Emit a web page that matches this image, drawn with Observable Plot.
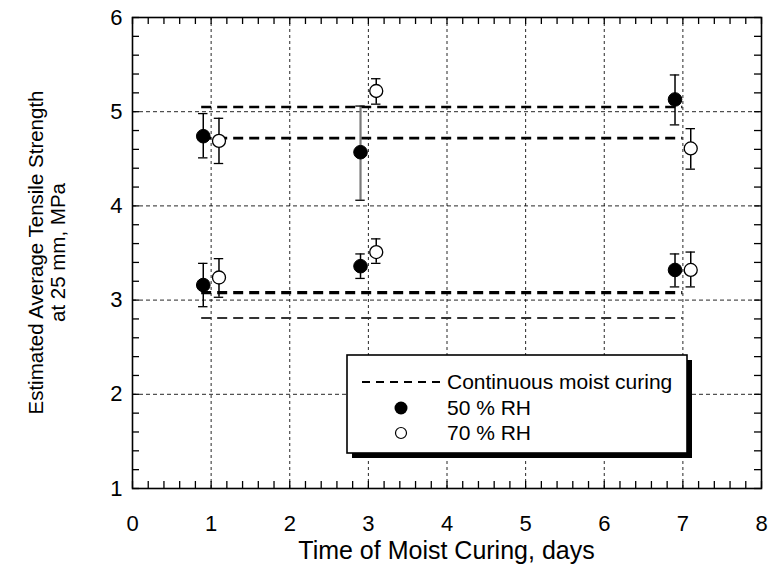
<!DOCTYPE html>
<html>
<head>
<meta charset="utf-8">
<script src="https://cdn.jsdelivr.net/npm/d3@7"></script>
<script src="https://cdn.jsdelivr.net/npm/@observablehq/plot@0.6"></script>
<style>
  html, body { margin: 0; padding: 0; background: #fff; }
  #chart svg { display: block; }
</style>
</head>
<body>
<div id="chart"></div>
<script>
// ---- data ----
const xTicks = [0, 1, 2, 3, 4, 5, 6, 7, 8];
const yTicks = [1, 2, 3, 4, 5, 6];

const rh50Days = [0.9, 0.9, 2.9, 2.9, 6.9, 6.9];
const rh50Mean = [4.74, 3.16, 4.57, 3.36, 5.13, 3.32];
const rh50Low  = [4.51, 2.93, 4.06, 3.23, 4.86, 3.14];
const rh50High = [4.98, 3.39, 5.06, 3.49, 5.39, 3.49];

const rh70Days = [1.1, 1.1, 3.1, 3.1, 7.1, 7.1];
const rh70Mean = [4.69, 3.24, 5.22, 3.51, 4.61, 3.32];
const rh70Low  = [4.45, 3.03, 5.08, 3.39, 4.39, 3.14];
const rh70High = [4.93, 3.44, 5.35, 3.65, 4.82, 3.51];

const moistLevels = [5.05, 4.72, 3.08, 2.81];
const moistStart = [0.88, 0.88, 0.88, 0.88];
const moistEnd   = [7.0, 7.0, 7.0, 7.0];

const legendLabels = ["Continuous moist curing", "50 % RH", "70 % RH"];
const xLabel = "Time of Moist Curing, days";
const yLabel = ["Estimated Average Tensile Strength", "at 25 mm, MPa"];

// ---- tables built from the arrays ----
const rh50 = rh50Days.map((d, i) => ({x: d, y: rh50Mean[i], lo: rh50Low[i], hi: rh50High[i], i}));
const rh70 = rh70Days.map((d, i) => ({x: d, y: rh70Mean[i], lo: rh70Low[i], hi: rh70High[i], i}));
const moist = moistLevels.map((y, i) => ({y, x1: moistStart[i], x2: moistEnd[i], i}));
const minorX = d3.range(0, 8.001, 0.2);
const minorY = d3.range(1, 6.001, 0.2);

const W = 769, H = 569;
const mL = 132, mR = 8, mT = 17, mB = 81;
const plotW = W - mL - mR, plotH = H - mT - mB;
const tickLen = 7;
const capHalf = 0.06;
const font = "'Liberation Sans', Arial, Helvetica, sans-serif";

const errStroke = (d) => (d.hi - d.lo > 0.8 ? "#7a7a7a" : "#000");

const plot = Plot.plot({
  width: W, height: H,
  marginLeft: mL, marginRight: mR, marginTop: mT, marginBottom: mB,
  x: {domain: [0, 8], axis: null},
  y: {domain: [1, 6], axis: null},
  style: {fontFamily: font, fontSize: "22px", color: "#000", background: "#fff"},
  marks: [
    // grid
    Plot.gridX(xTicks, {stroke: "#000", strokeOpacity: 0.85, strokeDasharray: "3,3", strokeWidth: 1}),
    Plot.gridY(yTicks, {stroke: "#000", strokeOpacity: 0.85, strokeDasharray: "4,3", strokeWidth: 1}),
    // continuous moist curing dashed lines
    Plot.ruleY(moist, {y: "y", x1: "x1", x2: "x2",
      stroke: d => d.i === 3 ? "#333" : "#000",
      strokeWidth: d => d.i === 2 ? 3.2 : (d.i === 3 ? 2 : 2.6),
      strokeDasharray: "10,6"}),
    // error bars
    Plot.ruleX(rh50, {x: "x", y1: "lo", y2: "hi", stroke: errStroke, strokeWidth: d => errStroke(d) === "#000" ? 1.5 : 2.2}),
    Plot.ruleY(rh50, {y: "lo", x1: d => d.x - capHalf, x2: d => d.x + capHalf, stroke: "#000", strokeWidth: 1.3}),
    Plot.ruleY(rh50, {y: "hi", x1: d => d.x - capHalf, x2: d => d.x + capHalf, stroke: "#000", strokeWidth: 1.3}),
    Plot.ruleX(rh70, {x: "x", y1: "lo", y2: "hi", stroke: "#000", strokeWidth: 1.5}),
    Plot.ruleY(rh70, {y: "lo", x1: d => d.x - capHalf, x2: d => d.x + capHalf, stroke: "#000", strokeWidth: 1.3}),
    Plot.ruleY(rh70, {y: "hi", x1: d => d.x - capHalf, x2: d => d.x + capHalf, stroke: "#000", strokeWidth: 1.3}),
    // points
    Plot.dot(rh50, {x: "x", y: "y", r: 6.8, fill: "#000", stroke: "#000", strokeWidth: 1}),
    Plot.dot(rh70, {x: "x", y: "y", r: 6.5, fill: "#fff", stroke: "#000", strokeWidth: 1.3}),
    // inward ticks on all four sides
    Plot.tickX(minorX, {x: d => d, insetTop: plotH - tickLen, stroke: "#000", strokeWidth: 1.3}),
    Plot.tickX(minorX, {x: d => d, insetBottom: plotH - tickLen, stroke: "#000", strokeWidth: 1.3}),
    Plot.tickY(minorY, {y: d => d, insetRight: plotW - tickLen, stroke: "#000", strokeWidth: 1.3}),
    Plot.tickY(minorY, {y: d => d, insetLeft: plotW - tickLen, stroke: "#000", strokeWidth: 1.3}),
    // tick labels
    Plot.text(xTicks, {x: d => d, y: 1, dy: 35, text: d => String(d), fontSize: 22, fill: "#000", textAnchor: "middle", lineAnchor: "middle"}),
    Plot.text(yTicks, {x: 0, y: d => d, dx: -10, text: d => String(d), fontSize: 22, fill: "#000", textAnchor: "end", lineAnchor: "middle"}),
    Plot.frame({stroke: "#000", strokeWidth: 1.6})
  ]
});

document.getElementById("chart").appendChild(plot);

// ---- titles and legend (added to the same SVG) ----
const svg = d3.select(plot);
const cx = mL + plotW / 2, cy = mT + plotH / 2;

svg.append("text")
  .attr("x", cx).attr("y", 559)
  .attr("text-anchor", "middle")
  .style("font-family", font).style("font-size", "25px").attr("fill", "#000")
  .text(xLabel);

yLabel.forEach((t, i) => {
  svg.append("text")
    .attr("transform", `translate(${43 + i * 22},${cy}) rotate(-90)`)
    .attr("text-anchor", "middle")
    .style("font-family", font).style("font-size", "20.5px").attr("fill", "#000")
    .text(t);
});

const lg = svg.append("g").attr("text-anchor", "start");
const bx = 347, by = 355, bw = 340, bh = 98, sh = 5;
lg.append("rect").attr("x", bx + sh).attr("y", by + bh - 1).attr("width", bw).attr("height", sh + 1).attr("fill", "#000");
lg.append("rect").attr("x", bx + bw - 1).attr("y", by + sh).attr("width", sh + 1).attr("height", bh).attr("fill", "#000");
lg.append("rect").attr("x", bx).attr("y", by).attr("width", bw).attr("height", bh)
  .attr("fill", "#fff").attr("stroke", "#000").attr("stroke-width", 1.6);

const rows = [382, 408, 433];
lg.append("line").attr("x1", 362).attr("x2", 440).attr("y1", rows[0]).attr("y2", rows[0])
  .attr("stroke", "#000").attr("stroke-width", 2).attr("stroke-dasharray", "8,6");
lg.append("circle").attr("cx", 401).attr("cy", rows[1]).attr("r", 6.5).attr("fill", "#000");
lg.append("circle").attr("cx", 401).attr("cy", rows[2]).attr("r", 5.5).attr("fill", "#fff").attr("stroke", "#000").attr("stroke-width", 1.2);
legendLabels.forEach((t, i) => {
  lg.append("text").attr("x", 447).attr("y", rows[i]).attr("dy", "0.35em")
    .attr("text-anchor", "start")
    .style("font-family", font).style("font-size", "21px").attr("fill", "#000")
    .text(t);
});
</script>
</body>
</html>
